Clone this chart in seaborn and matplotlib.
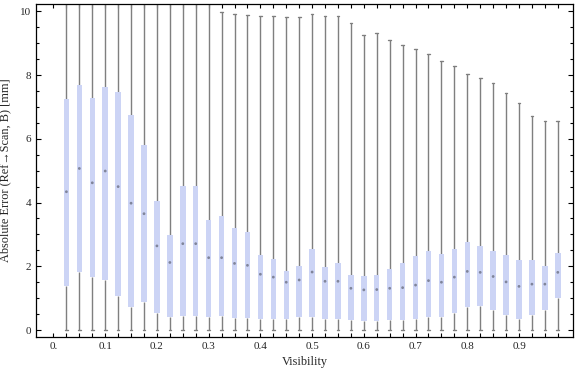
"""
Absolute error vs. visibility - box/whisker chart (Mathematica look)
"""
import numpy as np
import pandas as pd
import matplotlib
matplotlib.use('Agg')
import matplotlib.pyplot as plt
import seaborn as sns
from matplotlib.ticker import FixedLocator, MultipleLocator

sns.set_style('ticks')
plt.rcParams['font.family'] = ['Liberation Serif', 'DejaVu Serif']

# Data (mm)
visibility = [0.025, 0.05, 0.075, 0.1, 0.125, 0.15, 0.175, 0.2, 0.225, 0.25,
              0.275, 0.3, 0.325, 0.35, 0.375, 0.4, 0.425, 0.45, 0.475, 0.5,
              0.525, 0.55, 0.575, 0.6, 0.625, 0.65, 0.675, 0.7, 0.725, 0.75,
              0.775, 0.8, 0.825, 0.85, 0.875, 0.9, 0.925, 0.95, 0.975]
err_min = [0.0] * 39
err_q1 = [1.38, 1.82, 1.67, 1.57, 1.07, 0.73, 0.89, 0.52, 0.42, 0.45,
          0.45, 0.42, 0.45, 0.39, 0.37, 0.35, 0.35, 0.35, 0.42, 0.42,
          0.35, 0.35, 0.31, 0.28, 0.28, 0.31, 0.31, 0.35, 0.42, 0.42,
          0.54, 0.73, 0.76, 0.64, 0.48, 0.35, 0.46, 0.63, 1.01]
err_median = [4.34, 5.07, 4.62, 4.99, 4.50, 3.98, 3.65, 2.64, 2.12, 2.71,
              2.71, 2.27, 2.27, 2.09, 2.03, 1.75, 1.66, 1.50, 1.57, 1.82,
              1.53, 1.53, 1.31, 1.26, 1.27, 1.31, 1.33, 1.41, 1.55, 1.50,
              1.66, 1.84, 1.81, 1.68, 1.51, 1.37, 1.44, 1.44, 1.81]
err_q3 = [7.26, 7.69, 7.29, 7.62, 7.46, 6.74, 5.80, 4.05, 2.98, 4.52,
          4.52, 3.45, 3.58, 3.20, 3.08, 2.35, 2.23, 1.85, 2.01, 2.54,
          1.98, 2.09, 1.72, 1.69, 1.73, 1.91, 2.10, 2.32, 2.48, 2.38,
          2.54, 2.76, 2.64, 2.48, 2.35, 2.20, 2.20, 2.01, 2.41]
err_max = [10.8, 10.8, 10.8, 10.8, 10.8, 10.8, 10.8, 10.8, 10.8, 10.8,
           10.25, 10.28, 9.97, 9.91, 9.90, 9.87, 9.84, 9.81, 9.81, 9.91,
           9.84, 9.87, 9.62, 9.26, 9.31, 9.09, 8.93, 8.81, 8.65, 8.43,
           8.30, 8.05, 7.90, 7.74, 7.43, 7.11, 6.71, 6.55, 6.55]

x_ticks = [0.0, 0.025, 0.05, 0.075, 0.1, 0.125, 0.15, 0.175, 0.2, 0.225,
           0.25, 0.275, 0.3, 0.325, 0.35, 0.375, 0.4, 0.425, 0.45, 0.475,
           0.5, 0.525, 0.55, 0.575, 0.6, 0.625, 0.65, 0.675, 0.7, 0.725,
           0.75, 0.775, 0.8, 0.825, 0.85, 0.875, 0.9, 0.925, 0.95, 0.975]
x_labels = ['0.', '0.1', '0.2', '0.3', '0.4', '0.5', '0.6', '0.7', '0.8', '0.9']
x_label_pos = [0.0, 0.1, 0.2, 0.3, 0.4, 0.5, 0.6, 0.7, 0.8, 0.9]

box_color = '#ccd4f5'
line_color = '#7f7f7f'

# five values per box -> min / q1 / median / q3 / max with linear percentiles
vals = np.column_stack([err_min, err_q1, err_median, err_q3, err_max])
df = pd.DataFrame({
    'Visibility': np.repeat(visibility, 5),
    'Error': vals.ravel(),
})

fig = plt.figure(figsize=(5.76, 3.77), dpi=100)
ax = fig.add_axes([0.0625, 0.106, 0.9323, 0.8833])

sns.boxplot(data=df, x='Visibility', y='Error', native_scale=True,
            whis=(0, 100), width=0.42, color=box_color, saturation=1,
            linecolor=line_color, linewidth=1.0, showfliers=False,
            medianprops=dict(color=box_color, linewidth=0),
            ax=ax)

# flat boxes, no outline (drawn over the whisker lines)
for p in ax.patches:
    p.set_facecolor(box_color)
    p.set_edgecolor('none')
    p.set_linewidth(0)
    p.set_zorder(3)

# median marks
sns.scatterplot(x=visibility, y=err_median, ax=ax, marker='o', s=4,
                color='#80859a', edgecolor='none', zorder=5)

ax.set_xlim(-0.0338, 1.0044)
ax.set_ylim(-0.22, 10.23)

ax.xaxis.set_major_locator(FixedLocator(x_label_pos))
ax.set_xticklabels(x_labels)
ax.xaxis.set_minor_locator(FixedLocator(x_ticks))
ax.yaxis.set_major_locator(MultipleLocator(2))
ax.yaxis.set_minor_locator(MultipleLocator(0.5))

ax.tick_params(which='both', direction='in', top=True, right=True,
               width=0.8, color='black', labelsize=8, pad=3.5)
ax.tick_params(axis='x', which='both', length=3)
ax.tick_params(axis='y', which='major', length=3.8)
ax.tick_params(axis='y', which='minor', length=1.9)

for s in ax.spines.values():
    s.set_visible(True)
    s.set_color('black')
    s.set_linewidth(0.9)

ax.set_xlabel('Visibility', fontsize=8.8, labelpad=4)
ax.set_ylabel('Absolute Error (Ref\u2192Scan, B) [mm]', fontsize=8.8, labelpad=6)

fig.savefig('out.png', dpi=100, facecolor='white')
plt.close(fig)
